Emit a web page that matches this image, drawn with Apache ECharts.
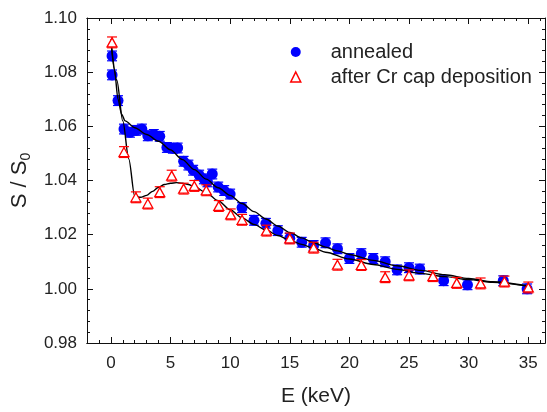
<!DOCTYPE html>
<html><head><meta charset="utf-8">
<script src="https://cdn.jsdelivr.net/npm/echarts@6/dist/echarts.min.js"></script>
<style>html,body{margin:0;padding:0;background:#fff}#c{width:547px;height:412px}</style>
</head><body><div id="c"></div>
<script>
// ---- data ----
var annealedE = [0.1,0.1,0.6,1.1,1.6,2.1,2.6,3.1,3.6,4.1,4.7,5.2,5.6,6.1,6.5,6.9,7.4,7.8,8.1,8.5,9.0,9.5,10.0,11.0,12.0,13.0,14.0,15.0,16.0,17.0,18.0,19.0,20.0,21.0,22.0,23.0,24.0,25.0,25.9,27.9,29.9,32.9,34.9];
var annealedS = [1.0860,1.0790,1.0695,1.0590,1.0578,1.0585,1.0590,1.0565,1.0570,1.0563,1.0522,1.0519,1.0520,1.0471,1.0457,1.0438,1.0420,1.0406,1.0395,1.0424,1.0376,1.0363,1.0350,1.0300,1.0253,1.0242,1.0215,1.0187,1.0172,1.0160,1.0170,1.0148,1.0112,1.0130,1.0112,1.0100,1.0070,1.0078,1.0073,1.0030,1.0015,1.0030,1.0000];
var annealedErr = [0.0018,0.0018,0.0018,0.0018,0.0018,0.0018,0.0018,0.0018,0.0018,0.0018,0.0018,0.0018,0.0018,0.0018,0.0018,0.0018,0.0018,0.0018,0.0018,0.0018,0.0018,0.0018,0.0018,0.0018,0.0018,0.0018,0.0018,0.0018,0.0018,0.0018,0.0018,0.0018,0.0018,0.0018,0.0018,0.0018,0.0018,0.0018,0.0018,0.0018,0.0018,0.0018,0.0018];

var capE = [0.1,1.1,2.1,3.1,4.1,5.1,6.1,7.0,8.0,9.05,10.05,11.0,13.05,15.0,17.0,19.0,21.0,23.0,25.0,27.0,29.0,31.0,33.0,35.0];
var capS = [1.0910,1.0505,1.0338,1.0315,1.0357,1.0418,1.0370,1.0380,1.0364,1.0306,1.0275,1.0255,1.0215,1.0186,1.0152,1.0089,1.0088,1.0043,1.0050,1.0047,1.0022,1.0020,1.0027,1.0005];
var capErr = [0.0020,0.0020,0.0020,0.0020,0.0020,0.0020,0.0020,0.0020,0.0020,0.0020,0.0020,0.0020,0.0020,0.0020,0.0020,0.0020,0.0020,0.0020,0.0020,0.0020,0.0020,0.0020,0.0020,0.0020];

var fitAnnealedE = [0,0.3,0.6,0.9,1.2,2,3,4,5,6,7,8,9,10,11,12,13,14,15,16,17,18,19,20,22,24,26,28,30,32,35];
var fitAnnealedS = [1.0920,1.0810,1.0700,1.0645,1.0620,1.0595,1.0570,1.0545,1.0513,1.0477,1.0440,1.0405,1.0373,1.0345,1.0315,1.0285,1.0258,1.0232,1.0208,1.0188,1.0170,1.0154,1.0140,1.0127,1.0105,1.0085,1.0068,1.0052,1.0038,1.0026,1.0010];

var fitCapE = [0,0.5,1.0,1.5,2.0,2.5,3,3.5,4,4.5,5,5.5,6,6.5,7,8,9,10,11,12,13,14,15,16,17,18,20,22,24,26,28,30,32,35];
var fitCapS = [1.0920,1.0770,1.0620,1.0480,1.0342,1.0338,1.0345,1.0360,1.0375,1.0385,1.0390,1.0392,1.0390,1.0385,1.0377,1.0355,1.0325,1.0292,1.0262,1.0238,1.0217,1.0197,1.0180,1.0164,1.0150,1.0135,1.0110,1.0090,1.0072,1.0057,1.0045,1.0034,1.0024,1.0010];

var xMajorTicks = [0,5,10,15,20,25,30,35];
var xMinorTicks = [-2,-1,0,1,2,3,4,5,6,7,8,9,10,11,12,13,14,15,16,17,18,19,20,21,22,23,24,25,26,27,28,29,30,31,32,33,34,35,36];
var yMin = 0.98, yMax = 1.10, yStep = 0.02;
var xMin = -2, xMax = 36.4;

var FONT = '"Liberation Sans", Arial, Helvetica, sans-serif';
function zip3(a,b,c){var r=[];for(var i=0;i<a.length;i++)r.push([a[i],b[i],c?c[i]:0]);return r;}
function zip2(a,b){var r=[];for(var i=0;i<a.length;i++)r.push([a[i],b[i]]);return r;}

function errRender(color, capHalf, lw){
  return function(params, api){
    var x=api.value(0), y=api.value(1), e=api.value(2);
    var t=api.coord([x,y+e]), b=api.coord([x,y-e]);
    var st={stroke:color,lineWidth:lw};
    return {type:'group',children:[
      {type:'line',shape:{x1:t[0],y1:t[1],x2:b[0],y2:b[1]},style:st},
      {type:'line',shape:{x1:t[0]-capHalf,y1:t[1],x2:t[0]+capHalf,y2:t[1]},style:st},
      {type:'line',shape:{x1:b[0]-capHalf,y1:b[1],x2:b[0]+capHalf,y2:b[1]},style:st}
    ]};
  };
}

var axisLineStyle = {color:'#111', width:1};
function xAx(pos, major, showLabel, name){
  return {
    type:'value', min:xMin, max:xMax, position:pos,
    axisLine:{show:true, onZero:false, lineStyle:axisLineStyle},
    axisTick:{show:true, inside:true, length: major?6:3, customValues: major?xMajorTicks:xMinorTicks, lineStyle:axisLineStyle},
    axisLabel:{show:showLabel, customValues:xMajorTicks, margin:12, fontSize:17, color:'#222', fontFamily:FONT},
    splitLine:{show:false},
    name: name||'', nameLocation:'middle', nameGap:43,
    nameTextStyle:{fontSize:21, color:'#222', fontFamily:FONT}
  };
}
function yAx(pos, showLabel){
  return {
    type:'value', min:yMin, max:yMax, interval:yStep, position:pos,
    axisLine:{show:true, onZero:false, lineStyle:axisLineStyle},
    axisTick:{show:true, inside:true, length:6, lineStyle:axisLineStyle},
    minorTick:{show:true, splitNumber:5, length:3, lineStyle:axisLineStyle},
    axisLabel:{show:showLabel, margin:10, fontSize:17, color:'#222', fontFamily:FONT,
      formatter:function(v){return v.toFixed(2);}},
    splitLine:{show:false},
    name: showLabel ? '{a|S / S}{b|0}' : '', nameLocation:'middle', nameGap:49,
    nameTextStyle:{fontFamily:FONT, color:'#222', rich:{
      a:{fontSize:22, lineHeight:26, verticalAlign:'middle', fontFamily:FONT, color:'#222'},
      b:{fontSize:14, lineHeight:14, verticalAlign:'bottom', fontFamily:FONT, color:'#222'}
    }}
  };
}

var chart = echarts.init(document.getElementById('c'), null, {renderer:'canvas'});
chart.setOption({
  animation:false,
  backgroundColor:'#fff',
  grid:{left:87, right:2, top:18, bottom:65, containLabel:false},
  xAxis:[
    xAx('bottom', true, true, 'E (keV)'),
    xAx('bottom', false, false),
    xAx('top', true, false),
    xAx('top', false, false)
  ],
  yAxis:[ yAx('left', true), yAx('right', false) ],
  legend:{
    orient:'vertical', left:290, top:42, padding:0, itemWidth:10, itemHeight:10, itemGap:5,
    textStyle:{fontSize:20, color:'#222', fontFamily:FONT, padding:[0,0,0,25], lineHeight:20},
    data:[
      {name:'annealed', icon:'circle', itemStyle:{color:'#0000ff', borderWidth:0}},
      {name:'after Cr cap deposition', icon:'triangle', itemStyle:{color:'#ffffff', borderColor:'#ff0000', borderWidth:1.5}}
    ]
  },
  series:[
    {type:'custom', name:'annealedErr', renderItem:errRender('#0000ff',5,1.2), data:zip3(annealedE,annealedS,annealedErr), encode:{x:0,y:1}, z:2, silent:true},
    {type:'scatter', name:'annealed', data:zip2(annealedE,annealedS), symbol:'circle', symbolSize:11,
      itemStyle:{color:'#0000ff', opacity:1}, z:3},
    {type:'line', name:'fitAnnealed', data:zip2(fitAnnealedE,fitAnnealedS), showSymbol:false, symbol:'none',
      smooth:0.3, smoothMonotone:'x', lineStyle:{color:'#000', width:1.4}, z:4},
    {type:'line', name:'fitCap', data:zip2(fitCapE,fitCapS), showSymbol:false, symbol:'none',
      smooth:0.3, smoothMonotone:'x', lineStyle:{color:'#000', width:1.4}, z:4},
    {type:'custom', name:'capErr', renderItem:errRender('#ff0000',5,1.2), data:zip3(capE,capS,capErr), encode:{x:0,y:1}, z:5, silent:true},
    {type:'scatter', name:'after Cr cap deposition', data:zip2(capE,capS), symbol:'triangle', symbolSize:[10,9],
      itemStyle:{color:'#ffffff', borderColor:'#ff0000', borderWidth:1.3, opacity:1}, z:6}
  ]
});
</script></body></html>
